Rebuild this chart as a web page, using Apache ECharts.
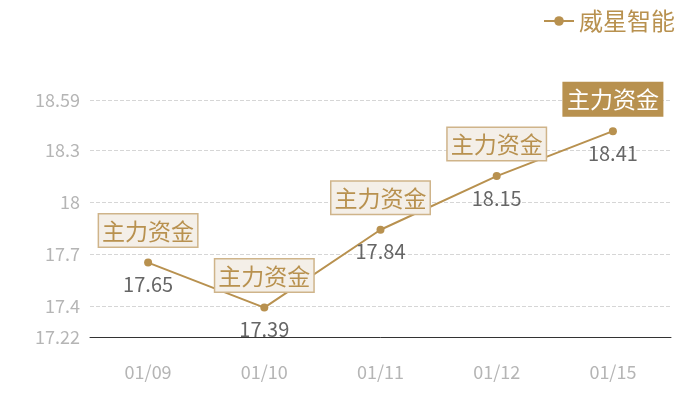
<!DOCTYPE html>
<html>
<head>
<meta charset="utf-8">
<script src="https://cdn.jsdelivr.net/npm/echarts@6/dist/echarts.min.js"></script>
<style>
html, body { margin: 0; padding: 0; background: #fff; }
#main { width: 700px; height: 400px; }
</style>
</head>
<body>
<div id="main"></div>
<script>
var dates = ['01/09', '01/10', '01/11', '01/12', '01/15'];
var prices = [17.65, 17.39, 17.84, 18.15, 18.41];
var tags = ['主力资金', '主力资金', '主力资金', '主力资金', '主力资金'];
var yMin = 17.22;
var yMax = 18.59;

var gold = '#b8914f';
var font = '"Noto Sans CJK SC", "Noto Sans", sans-serif';

window.onload = function () {
    var chart = echarts.init(document.getElementById('main'));

    // 上方的标签，最后一个高亮
    var tagData = prices.map(function (v, i) {
        var item = { value: v };
        if (i === prices.length - 1) {
            item.label = {
                backgroundColor: gold,
                borderColor: gold,
                color: '#fff'
            };
        }
        return item;
    });

    chart.setOption({
        animation: false,
        textStyle: { fontFamily: font },
        legend: {
            data: ['威星智能'],
            right: 20,
            top: 4,
            itemWidth: 30,
            itemHeight: 12,
            itemGap: 6,
            textStyle: { color: gold, fontSize: 24, fontFamily: font }
        },
        grid: {
            left: 90,
            right: 29,
            top: 100,
            bottom: 63
        },
        xAxis: {
            type: 'category',
            data: dates,
            axisLine: { lineStyle: { color: '#333' } },
            axisTick: { show: false },
            axisLabel: { color: '#b5b5b5', fontSize: 18, margin: 26, fontFamily: font }
        },
        yAxis: {
            type: 'value',
            min: yMin,
            max: yMax,
            axisLine: { show: false },
            axisTick: { show: false },
            axisLabel: { color: '#b5b5b5', fontSize: 18, margin: 10, fontFamily: font },
            splitLine: { lineStyle: { color: '#d6d6d6', type: 'dashed' } }
        },
        series: [{
            name: '威星智能',
            type: 'line',
            data: prices,
            symbol: 'circle',
            symbolSize: 8,
            itemStyle: { color: gold },
            lineStyle: { color: gold, width: 2 },
            label: {
                show: true,
                position: 'bottom',
                distance: 8,
                color: '#666',
                fontSize: 20,
                fontFamily: font
            },
            z: 3
        }, {
            name: 'tag',
            type: 'line',
            data: tagData,
            symbol: 'circle',
            symbolSize: 2,
            showSymbol: true,
            itemStyle: { color: 'rgba(0,0,0,0)' },
            lineStyle: { opacity: 0 },
            label: {
                show: true,
                position: 'top',
                distance: 15,
                formatter: function (p) { return tags[p.dataIndex]; },
                color: gold,
                fontSize: 23,
                fontFamily: font,
                backgroundColor: '#f4efe8',
                borderColor: '#cfb48a',
                borderWidth: 1.5,
                padding: [5, 3, 4, 3]
            },
            z: 4
        }]
    });
};
</script>
</body>
</html>
